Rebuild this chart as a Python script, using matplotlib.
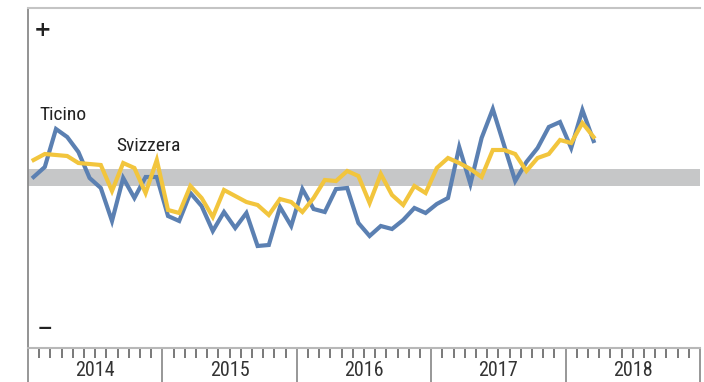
import matplotlib
matplotlib.use("Agg")
import matplotlib.pyplot as plt
from matplotlib import font_manager as fm
import numpy as np

# Monthly index, Jan 2014 - Mar 2018 (relative scale, 0 = neutral band)
ticino = [1, 11, 49, 41, 26, 0, -10, -43, 0, -20, 1, 1,
          -38, -43, -15, -28, -53, -34, -50, -35, -68, -67, -29, -48,
          -11, -31, -34, -11, -10, -45, -58, -48, -51, -42, -30, -35,
          -26, -20, 31, -6, 40, 69, 33, -3, 16, 30, 51, 56,
          30, 68, 37]
svizzera = [18, 24, 23, 22, 15, 14, 13, -13, 15, 10, -15, 18,
            -32, -35, -8, -20, -39, -12, -18, -24, -27, -37, -21, -24,
            -34, -20, -2, -3, 7, 2, -25, 4, -17, -27, -8, -15,
            10, 20, 15, 9, 1, 28, 28, 24, 7, 20, 24, 38,
            35, 55, 41]
years = ["2014", "2015", "2016", "2017", "2018"]
series_labels = ["Ticino", "Svizzera"]

names = {f.name for f in fm.fontManager.ttflist}
narrow = None
for cand in ["Liberation Sans Narrow", "Roboto Condensed", "Open Sans Condensed", "Noto Sans Condensed"]:
    if cand in names:
        narrow = cand
        break
if narrow is None:
    narrow = "Roboto" if "Roboto" in names else "DejaVu Sans"
    fs = 12.5
else:
    fs = 14.0
plt.rcParams["font.family"] = [narrow, "DejaVu Sans"]

W, H = 704, 382
fig = plt.figure(figsize=(W / 100, H / 100), dpi=100)
ax = fig.add_axes([28 / W, (H - 348) / H, (700 - 28) / W, (348 - 8) / H])

n_months = 12 * len(years)
x = np.arange(len(ticino)) + 0.5

ax.axhspan(-8.5, 8.5, color="#c6c7c8", lw=0, zorder=1)
ax.plot(x, ticino, color="#5b80b2", lw=3.0, solid_joinstyle="miter", zorder=3)
ax.plot(np.arange(len(svizzera)) + 0.5, svizzera, color="#f2c53d", lw=3.0,
        solid_joinstyle="miter", zorder=3)

ax.set_xlim(0, n_months)
ax.set_ylim(-170, 170)

ax.spines["right"].set_visible(False)
ax.spines["left"].set_color("#8a8a8a")
ax.spines["left"].set_linewidth(1.3)
ax.spines["top"].set_color("#c4c4c4")
ax.spines["top"].set_linewidth(1.5)
ax.spines["bottom"].set_color("#b8b8b8")
ax.spines["bottom"].set_linewidth(1.5)

ax.set_yticks([])
ax.set_xticks(np.arange(0, n_months + 1, 12))
ax.set_xticklabels([])
ax.set_xticks([m for m in range(1, n_months) if m % 12 != 0], minor=True)
ax.tick_params(axis="x", which="major", direction="out", length=24.5, width=1.1, color="#7a7a7a")
ax.tick_params(axis="x", which="minor", direction="out", length=7.5, width=1.1, color="#555555")

for k, yr in enumerate(years):
    ax.text(12 * k + 6, -202.5, yr, ha="center", va="bottom",
            fontsize=fs + 0.5, color="#333333", clip_on=False)

ax.text(1.3, 148, "+", ha="center", va="center", fontsize=15, fontweight="bold", color="#222222",
        family=["DejaVu Sans"])
ax.text(1.5, -150, "–", ha="center", va="center", fontsize=21, color="#222222",
        family=["DejaVu Sans"])

ax.text(1.05, 63, series_labels[0], ha="left", va="center", fontsize=fs, color="#222222")
ax.text(7.85, 32, series_labels[1], ha="left", va="center", fontsize=fs, color="#222222")

fig.savefig("out.png", dpi=100)
